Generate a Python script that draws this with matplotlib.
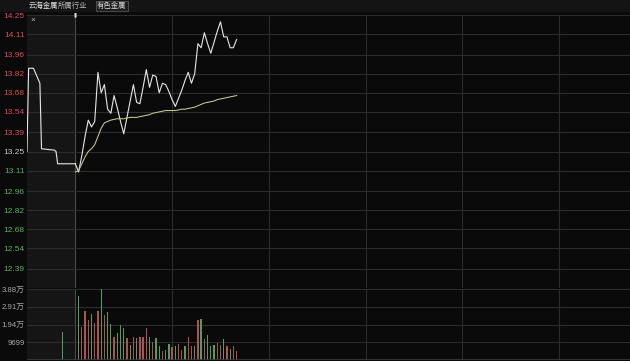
import numpy as np
import matplotlib.pyplot as plt
from matplotlib.patches import Rectangle

plt.rcParams['font.family'] = ['Liberation Sans', 'Noto Sans CJK SC', 'DejaVu Sans']

# --- data (minutes from 9:30 open) ---
pre_t = [-15, -14.5, -13, -11, -10.5, -6.5, -6, -5.5, 0]
pre_p = [13.25, 13.86, 13.86, 13.75, 13.27, 13.26, 13.25, 13.16, 13.16]

minutes = list(range(51))
price = [13.16, 13.10, 13.22, 13.36, 13.48, 13.43, 13.47, 13.83, 13.68, 13.74,
         13.56, 13.53, 13.66, 13.57, 13.47, 13.38, 13.50, 13.62, 13.74, 13.61,
         13.60, 13.72, 13.85, 13.72, 13.81, 13.80, 13.68, 13.75, 13.74, 13.69,
         13.63, 13.58, 13.64, 13.70, 13.77, 13.83, 13.75, 13.82, 14.04, 14.01,
         14.12, 14.04, 13.97, 14.05, 14.13, 14.20, 14.09, 14.09, 14.01, 14.01,
         14.07]
avg_price = [13.10, 13.11, 13.16, 13.21, 13.25, 13.27, 13.30, 13.36, 13.42, 13.46,
             13.47, 13.48, 13.485, 13.49, 13.49, 13.49, 13.495, 13.50, 13.50, 13.50,
             13.505, 13.51, 13.515, 13.52, 13.53, 13.535, 13.54, 13.545, 13.55, 13.55,
             13.55, 13.55, 13.555, 13.56, 13.56, 13.565, 13.57, 13.575, 13.585, 13.595,
             13.605, 13.61, 13.615, 13.62, 13.63, 13.635, 13.64, 13.645, 13.65, 13.655,
             13.66]

vol_minutes = [-4] + list(range(1, 51))
volume = [15500,
          35000, 17900, 26800, 21800, 25100, 20400, 26800, 39100, 24700, 26200,
          19500, 12400, 14600, 19100, 17600, 11800, 8200, 12400, 12200, 12400,
          12400, 17300, 12800, 10000, 12200, 7800, 5100, 5500, 8600, 7300,
          7600, 8600, 5500, 7600, 12400, 7800, 7800, 21800, 22500, 11300,
          13700, 7800, 8200, 9100, 8200, 11300, 7600, 5800, 7600, 4900]
# 1 = up (red), -1 = down (green)
vol_dir = [-1,
           -1, 1, 1, 1, -1, 1, 1, -1, 1, -1,
           -1, 1, -1, -1, -1, 1, -1, 1, -1, 1,
           1, 1, -1, 1, -1, -1, 1, -1, -1, 1,
           -1, 1, 1, -1, 1, 1, -1, 1, -1, 1,
           -1, -1, -1, 1, 1, -1, 1, -1, 1, 1]

pre_close = 13.25
price_ticks = [14.25, 14.11, 13.96, 13.82, 13.68, 13.54, 13.39, 13.25,
               13.11, 12.96, 12.82, 12.68, 12.54, 12.39]
vol_ticks = [9699, 19398, 29097, 38796]
vol_labels = ['9699', '1.94万', '2.91万', '3.88万']

BG = '#0a0a0a'
PRE_BG = '#151515'
GRID = '#2c2c2c'
RED = '#d9504f'
GREEN = '#55b45a'

W, H = 630, 361
fig = plt.figure(figsize=(W / 100, H / 100), dpi=100, facecolor=BG)

ax_p = fig.add_axes([27 / W, (H - 288) / H, 603 / W, 273 / H], facecolor=BG)
ax_v = fig.add_axes([27 / W, 1 / H, 603 / W, 71 / H], facecolor=BG)

xmin, xmax = -15, 172
for ax in (ax_p, ax_v):
    ax.set_xlim(xmin, xmax)
    ax.axvspan(-15, 0, color=PRE_BG, lw=0, zorder=0)
    for m in (30, 60, 90, 120, 150):
        ax.axvline(m, color=GRID, lw=0.8, zorder=1)
    ax.axvline(0, color='#4a4a4a', lw=0.8, zorder=1)
    for s in ax.spines.values():
        s.set_visible(False)
    ax.tick_params(length=0, pad=1.8)
    ax.set_xticks([])

# price panel
ax_p.set_ylim(12.25, 14.25)
for v in price_ticks:
    ax_p.axhline(v, color=GRID, lw=0.8, zorder=1)
ax_p.set_yticks(price_ticks)
ax_p.set_yticklabels([f'{v:.2f}' for v in price_ticks], fontsize=6.0)
for v, lab in zip(price_ticks, ax_p.get_yticklabels()):
    if abs(v - pre_close) < 1e-6:
        lab.set_color('#c8c8c8')
    elif v > pre_close:
        lab.set_color(RED)
    else:
        lab.set_color(GREEN)

ax_p.plot(pre_t, pre_p, color='#e6e6e6', lw=0.8, zorder=3)
ax_p.plot(minutes, price, color='#e6e6e6', lw=0.8, zorder=3)
ax_p.plot(minutes, avg_price, color='#cfc88a', lw=0.75, zorder=3)

# volume panel
ax_v.set_ylim(0, 38796)
for v in vol_ticks:
    ax_v.axhline(v, color=GRID, lw=0.8, zorder=1)
ax_v.set_yticks(vol_ticks)
ax_v.set_yticklabels(vol_labels, fontsize=5.6, color='#a8a8a8')
bar_colors = ['#b5504f' if d > 0 else '#4f9f5c' for d in vol_dir]
ax_v.bar(vol_minutes, volume, width=0.4, color=bar_colors, zorder=2)
ax_v.axhline(0, color='#3a3a3a', lw=1.2, zorder=3)

# header
fig.patches.append(Rectangle((0, (H - 11) / H), 1, 11 / H, transform=fig.transFigure,
                             color='#141414', zorder=0))
fig.text(29 / W, (H - 6) / H, '云海金属', fontsize=5.3, color='#e8e8e8', va='center')
fig.text(58 / W, (H - 6) / H, '所属行业', fontsize=5.3, color='#b8b8b8', va='center')
fig.text(97 / W, (H - 6) / H, '有色金属', fontsize=5.3, color='#d8d8d8', va='center',
         bbox=dict(boxstyle='square,pad=0.15', fc='#1e1e1e', ec='#555555', lw=0.6))
fig.text(30 / W, (H - 20) / H, '×', fontsize=6, color='#bbbbbb', va='center')
fig.text(75 / W, (H - 14.5) / H, '▮', fontsize=4, color='#e0e0e0', va='center', ha='center',
         family=['DejaVu Sans'])

fig.savefig('out.png', dpi=100, facecolor=BG)
